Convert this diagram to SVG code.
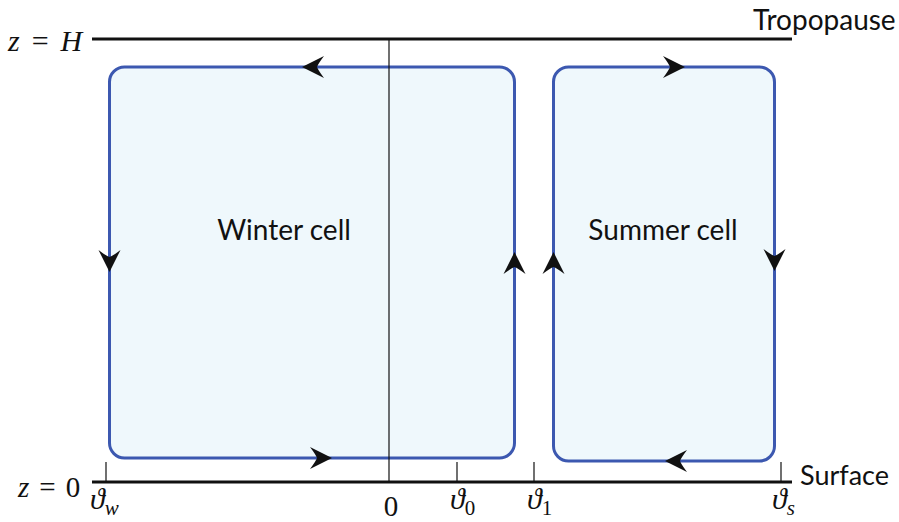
<svg xmlns="http://www.w3.org/2000/svg" width="899" height="522" viewBox="0 0 899 522">
<style>
.cell{fill:#eff8fc;stroke:#3c58b0;stroke-width:3}
.ax{stroke:#111;stroke-width:3;fill:none}
.thin{stroke:#111;stroke-width:1.2;fill:none}
.lbl{font-family:"Lato","Liberation Sans",sans-serif;fill:#111}
.math{font-family:"Liberation Serif","DejaVu Serif",serif;font-style:italic;fill:#111}
.num{font-family:"Liberation Serif","DejaVu Serif",serif;fill:#111}
.arr{fill:#111}
</style>
<defs>
<path id="ah" d="M0,0 L-22,-11 Q-16,-3 -15,0 Q-16,3 -22,11 Z"/>
</defs>
<rect width="899" height="522" fill="#fff"/>
<g id="winter">
<rect class="cell" x="109.5" y="67" width="405" height="391" rx="15"/>
<text class="lbl" x="284" y="240" font-size="28" text-anchor="middle">Winter cell</text>
</g>
<g id="summer">
<rect class="cell" x="553.5" y="67" width="221" height="394" rx="15"/>
<text class="lbl" x="663" y="240" font-size="28" text-anchor="middle">Summer cell</text>
</g>
<g id="axes">
<line class="ax" x1="92" y1="39" x2="792" y2="39"/>
<line class="ax" x1="92" y1="482" x2="792" y2="482"/>
<line class="thin" x1="389" y1="39" x2="389" y2="482"/>
<line class="thin" x1="106" y1="462" x2="106" y2="482"/>
<line class="thin" x1="457" y1="462" x2="457" y2="482"/>
<line class="thin" x1="534" y1="462" x2="534" y2="482"/>
<line class="thin" x1="781" y1="462" x2="781" y2="482"/>
</g>
<g id="connectors">
<use href="#ah" class="arr" transform="translate(302,67) rotate(180)"/>
<use href="#ah" class="arr" transform="translate(332,458)"/>
<use href="#ah" class="arr" transform="translate(109.5,272) rotate(90)"/>
<use href="#ah" class="arr" transform="translate(514.5,252) rotate(-90)"/>
<use href="#ah" class="arr" transform="translate(553.5,252) rotate(-90)"/>
<use href="#ah" class="arr" transform="translate(774.5,271) rotate(90)"/>
<use href="#ah" class="arr" transform="translate(685,67)"/>
<use href="#ah" class="arr" transform="translate(665,461) rotate(180)"/>
</g>
<g id="labels">
<text class="lbl" x="753" y="30" font-size="28">Tropopause</text>
<text class="lbl" x="800" y="485" font-size="27">Surface</text>
<text x="8" y="51" font-size="30"><tspan class="math">z</tspan><tspan class="num" dx="12">=</tspan><tspan class="math" dx="12">H</tspan></text>
<text x="18" y="497" font-size="29"><tspan class="math">z</tspan><tspan class="num" dx="10">=</tspan><tspan class="num" dx="10">0</tspan></text>
<text class="num" x="391" y="516" font-size="29" text-anchor="middle">0</text>
<text x="90" y="509" font-size="30"><tspan class="math">ϑ</tspan><tspan class="math" font-size="21" dy="6">w</tspan></text>
<text x="450" y="509" font-size="30"><tspan class="math">ϑ</tspan><tspan class="num" font-size="21" dy="6">0</tspan></text>
<text x="527" y="509" font-size="30"><tspan class="math">ϑ</tspan><tspan class="num" font-size="21" dy="6">1</tspan></text>
<text x="772" y="509" font-size="30"><tspan class="math">ϑ</tspan><tspan class="math" font-size="21" dy="6">s</tspan></text>
</g>
</svg>
